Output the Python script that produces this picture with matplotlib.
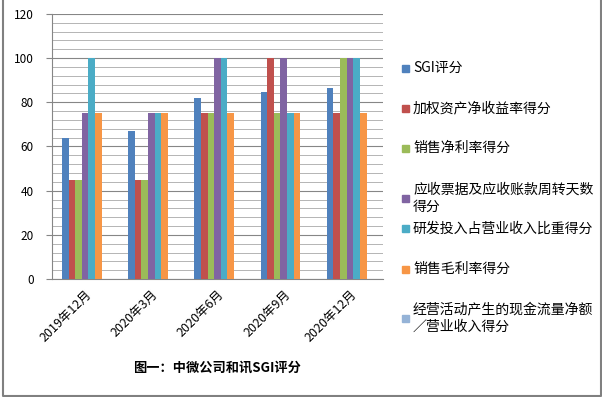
import matplotlib.pyplot as plt
import numpy as np
from matplotlib.patches import Rectangle
from matplotlib.lines import Line2D

plt.rcParams['font.family'] = ['Noto Sans CJK SC', 'DejaVu Sans']

periods = ["2019年12月", "2020年3月", "2020年6月", "2020年9月", "2020年12月"]
series_names = ["SGI评分", "加权资产净收益率得分", "销售净利率得分",
                "应收票据及应收账款周转天数\n得分", "研发投入占营业收入比重得分",
                "销售毛利率得分", "经营活动产生的现金流量净额\n／营业收入得分"]
sgi = [64, 67, 82, 84.5, 86.5]
roe = [45, 45, 75, 100, 75]
net_margin = [45, 45, 75, 75, 100]
receivable = [75, 75, 100, 100, 100]
rnd = [100, 75, 100, 75, 100]
gross_margin = [75, 75, 75, 75, 75]
cashflow = [0, 0, 0, 0, 0]
colors = ["#4F81BD", "#C0504D", "#9BBB59", "#8064A2", "#4BACC6", "#F79646", "#95B3D7"]

all_series = [sgi, roe, net_margin, receivable, rnd, gross_margin, cashflow]

fig = plt.figure(figsize=(6.02, 3.97), dpi=100)
ax = fig.add_axes([0.0864, 0.297, 0.55, 0.668])

x = np.arange(len(periods))
n = len(all_series)
w = 0.7 / n
for i, vals in enumerate(all_series):
    ax.bar(x - 0.35 + w * (i + 0.5), vals, w, color=colors[i], zorder=3)

ax.set_xlim(-0.5, len(periods) - 0.5)
ax.set_ylim(0, 120)
ax.set_yticks(range(0, 121, 20))
ax.set_yticks(range(0, 121, 4), minor=True)
ax.grid(axis="y", which="major", color="#868686", lw=0.8, zorder=0)
ax.grid(axis="y", which="minor", color="#a8a8a8", lw=0.6, zorder=0)
ax.tick_params(axis="y", which="major", labelsize=8.5, length=4, pad=9, color="#868686")
ax.tick_params(axis="y", which="minor", length=0)
ax.set_xticks(x)
ax.set_xticklabels(periods, rotation=45, ha="right", va="top",
                   rotation_mode="anchor", fontsize=9)
ax.tick_params(axis="x", length=0, pad=6)
for s in ["top", "right"]:
    ax.spines[s].set_visible(False)
ax.spines["left"].set_color("#868686")
ax.spines["bottom"].set_color("#868686")

# legend drawn by hand to keep the wide Excel spacing
legend_y = [68, 108, 148, 198, 229, 269, 318]
for name, c, yy in zip(series_names, colors, legend_y):
    yf = 1 - yy / 397
    fig.patches.append(Rectangle((402 / 602, yf - 3.5 / 397), 7 / 602, 7 / 397,
                                 transform=fig.transFigure, color=c))
    fig.text(413 / 602, yf, name, fontsize=10, va="center", ha="left",
             linespacing=1.25)

fig.text(217 / 602, 1 - 368 / 397, "图一：中微公司和讯SGI评分", fontsize=9.5,
         fontweight="bold", ha="center", va="center")

# outer frame: left, bottom, right edges only
fx = [2.5 / 602, 2.5 / 602, 600.5 / 602, 600.5 / 602]
fy = [1.0, 1.5 / 397, 1.5 / 397, 1.0]
fig.lines.append(Line2D(fx, fy, transform=fig.transFigure, color="#808080", lw=1.5))

fig.savefig("out.png", dpi=100)
